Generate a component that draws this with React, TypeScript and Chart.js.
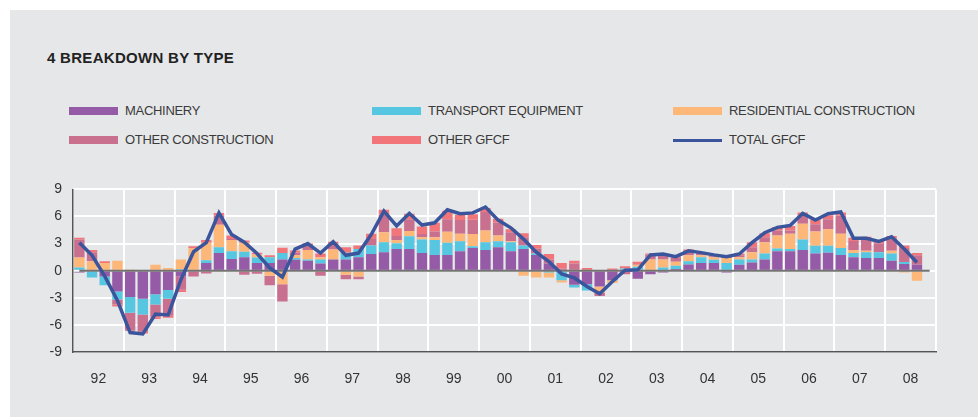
import React, { useEffect, useRef } from 'react';
import { Chart, registerables } from 'chart.js';

Chart.register(...registerables);

const years = ['92', '93', '94', '95', '96', '97', '98', '99', '00', '01', '02', '03', '04', '05', '06', '07', '08'];
const quarterNames = ['Q1', 'Q2', 'Q3', 'Q4'];
const quarters = years.flatMap((y) => quarterNames.map((q) => `${q} ${y}`));

const machinery = [
  -0.2, 0, -0.65, -2.3,
  -2.9, -3.1, -2.6, -2.15,
  -0.65, 0, 0.85, 1.95,
  1.3, 1.5, 0.85, 0.85,
  1.25, 1.2, 1.1, 0.8,
  1.25, 1.25, 1.5, 1.85,
  2.05, 2.4, 2.4, 1.95,
  1.75, 1.75, 2.15, 2.5,
  2.3, 2.6, 2.15, 2.4,
  1.75, 0.8, 0, -1.55,
  -1.5, -1.75, -1.05, 0,
  -0.9, -0.4, -0.2, 0.2,
  0.7, 0.85, 0.85, -0.2,
  0.65, 0.9, 1.25, 2.15,
  2.15, 2.3, 1.9, 2.0,
  1.75, 1.5, 1.4, 1.4,
  1.1, 0.75, 0.65,
];

const transport = [
  0.35, -0.75, -0.95, -0.9,
  -1.75, -1.75, -1.15, -0.95,
  0.15, 0.1, 0.3, 0.65,
  0.85, 0.6, 0.6, 0.65,
  0.7, 0.2, 0.15, 0.45,
  0, 0.75, 0.9, 0.95,
  1.1, 0.65, 1.4, 1.5,
  1.65, 1.35, 1.1, 0.2,
  0.85, 0.65, 1.0, 0.4,
  0.15, -0.2, -1.05, -0.3,
  -0.7, 0, 0, 0.25,
  0.45, 0.1, 0.35, 0.35,
  0.35, 0.65, 0.35, 0.85,
  0.6, 0.35, 0.65, 0.3,
  0.25, 1.15, 0.85, 0.75,
  0.75, 0.45, 0.65, 0.65,
  0.8, 0.2, 0,
];

const residential = [
  1.1, 1.05, 0.85, 1.1,
  0.05, 0.1, 0.65, 0.3,
  1.1, 2.4, 1.95, 2.5,
  1.25, 1.0, 0.35, -0.55,
  -1.5, 0.3, 1.05, 0.25,
  1.1, -0.45, -0.65, 0,
  1.1, 0.35, 0.6, 0.25,
  0.3, 1.2, 0.85, 1.35,
  1.3, 0.65, 0.1, -0.55,
  -0.75, -0.55, -0.25, 0.1,
  0, -0.7, -0.3, 0,
  0.2, 1.15, 0.9, 0.45,
  0.65, 0.2, 0.3, 0.55,
  0.25, 0.8, 1.25, 1.45,
  1.7, 1.75, 1.6, 1.85,
  1.6, 0.35, 0.15, 0,
  0.3, -0.2, -1.1,
];

const otherConstruction = [
  2.0, 1.0, 0, -0.55,
  -2.0, -1.9, -1.4, -1.9,
  -1.45, -0.65, -0.3, 1.0,
  0.1, -0.45, -0.35, -1.05,
  -1.9, 0.3, 0.45, -0.55,
  0.65, -0.5, -0.3, 0.7,
  1.95, 0.45, 1.3, 0.35,
  0.65, 1.4, 1.5, 1.6,
  2.05, 1.4, 1.0, 0.9,
  0.55, 0.45, 0.25, 0.7,
  0, -0.35, 0.1, -0.4,
  0.1, 0.55, 0.55, 0.5,
  0.45, 0.2, 0.1, 0.3,
  0.2, 0.55, 0.55, 0.55,
  0.35, 0.9, 0.8, 1.1,
  2.0, 1.0, 1.2, 1.0,
  1.35, 1.55, 1.05,
];

const otherGfcf = [
  0.2, 0.25, 0.2, -0.2,
  0, -0.2, -0.2, -0.2,
  -0.25, 0.2, 0.3, 0.3,
  0.4, 0.25, 0.2, 0.2,
  0.6, 0.25, 0.25, 0.4,
  0.2, 0.6, 0.4, 0.6,
  0.55, 0.85, 0.6, 0.85,
  0.95, 0.95, 0.6, 0.6,
  0.45, 0.45, 0.35, 0.45,
  0.4, 0.6, 0.6, 0.3,
  0.3, 0.1, 0.15, 0.25,
  0.25, 0.1, 0.1, 0.1,
  0.2, 0.1, 0.1, 0,
  0.2, 0.55, 0.45, 0.4,
  0.5, 0.35, 0.55, 0.45,
  0.35, 0.35, 0.35, 0.3,
  0.3, 0.3, 0.25,
];

const totalGfcf = [
  3.1, 1.7, -0.6, -3.3,
  -6.85, -7.0, -4.8, -4.9,
  -1.0, 2.1, 3.1, 6.4,
  4.0, 3.15, 1.9, 0.3,
  -0.7, 2.4, 3.0, 1.95,
  3.2, 1.7, 1.95, 4.0,
  6.6, 4.95, 6.35, 5.05,
  5.3, 6.75, 6.3, 6.4,
  7.05, 5.6, 4.75, 3.5,
  2.05, 1.0, -0.35, -0.8,
  -1.75, -2.55, -1.2, 0.05,
  0.1, 1.75, 1.85, 1.55,
  2.2, 2.0, 1.75, 1.55,
  1.85, 3.1, 4.2, 4.8,
  5.0, 6.35, 5.6, 6.3,
  6.5, 3.6, 3.6, 3.25,
  3.75, 2.4, 0.9,
];

const yTicks = [-9, -6, -3, 0, 3, 6, 9];

const COLORS = {
  machinery: '#955ba6',
  transport: '#57c6e0',
  residential: '#fcb779',
  otherConstruction: '#c9708f',
  otherGfcf: '#f27679',
  total: '#3b559c',
};

const FONT = '"Liberation Sans", Arial, Helvetica, sans-serif';

const legendItems = [
  { label: 'MACHINERY', color: COLORS.machinery, line: false },
  { label: 'TRANSPORT EQUIPMENT', color: COLORS.transport, line: false },
  { label: 'RESIDENTIAL CONSTRUCTION', color: COLORS.residential, line: false },
  { label: 'OTHER CONSTRUCTION', color: COLORS.otherConstruction, line: false },
  { label: 'OTHER GFCF', color: COLORS.otherGfcf, line: false },
  { label: 'TOTAL GFCF', color: COLORS.total, line: true },
];

const colX = [69, 372, 673];
const rowY = [111, 140];

function ChartCanvas() {
  const ref = useRef<HTMLCanvasElement | null>(null);
  useEffect(() => {
    if (!ref.current) return;
    const bar = (label: string, data: number[], color: string) => ({
      type: 'bar' as const,
      label,
      data,
      backgroundColor: color,
      borderWidth: 0,
      stack: 'gfcf',
      order: 2,
      xAxisID: 'x',
      yAxisID: 'y',
      barPercentage: 0.82,
      categoryPercentage: 1,
    });
    const chart = new Chart(ref.current, {
      data: {
        labels: quarters,
        datasets: [
          bar('MACHINERY', machinery, COLORS.machinery),
          bar('TRANSPORT EQUIPMENT', transport, COLORS.transport),
          bar('RESIDENTIAL CONSTRUCTION', residential, COLORS.residential),
          bar('OTHER CONSTRUCTION', otherConstruction, COLORS.otherConstruction),
          bar('OTHER GFCF', otherGfcf, COLORS.otherGfcf),
          {
            type: 'line' as const,
            label: 'zero',
            data: quarters.map(() => 0),
            borderColor: 'rgba(60,60,60,0.72)',
            borderWidth: 2,
            pointRadius: 0,
            tension: 0,
            fill: false,
            stack: 'zeroLine',
            order: 1,
            xAxisID: 'x',
            yAxisID: 'y',
          },
          {
            type: 'line' as const,
            label: 'TOTAL GFCF',
            data: totalGfcf,
            borderColor: COLORS.total,
            borderWidth: 3.5,
            pointRadius: 0,
            tension: 0,
            fill: false,
            stack: 'totalLine',
            order: 0,
            xAxisID: 'x',
            yAxisID: 'y',
          },
        ],
      } as any,
      options: {
        animation: false,
        responsive: true,
        maintainAspectRatio: false,
        layout: { padding: { top: 16, right: 42, left: 0, bottom: 0 } },
        plugins: { legend: { display: false }, tooltip: { enabled: false } },
        scales: {
          x: {
            type: 'category',
            display: false,
            offset: true,
            stacked: true,
          },
          xYear: {
            type: 'category',
            labels: years,
            position: 'bottom',
            offset: true,
            grid: { offset: true, color: '#ffffff', lineWidth: 2, drawTicks: false },
            border: { color: '#555555', width: 1.5 },
            ticks: { color: '#333333', font: { family: FONT, size: 14 }, padding: 19, maxRotation: 0, autoSkip: false },
            afterFit: (s: any) => { s.height = 65; },
          },
          y: {
            type: 'linear',
            min: -9,
            max: 9,
            stacked: true,
            afterBuildTicks: (s: any) => { s.ticks = yTicks.map((v) => ({ value: v })); },
            grid: { color: '#ffffff', lineWidth: 2, drawTicks: false },
            border: { color: '#555555', width: 1.5 },
            ticks: { color: '#333333', font: { family: FONT, size: 14 }, padding: 11 },
            afterFit: (s: any) => { s.width = 73; },
          },
        },
      } as any,
    });
    return () => chart.destroy();
  }, []);
  return (
    <div style={{ position: 'absolute', left: 0, top: 170, width: 978, height: 247 }}>
      <canvas ref={ref} />
    </div>
  );
}

export default function App() {
  return (
    <div style={{ position: 'fixed', left: 0, top: 0, width: 978, height: 417, background: '#ffffff', overflow: 'hidden', fontFamily: FONT }}>
      <div style={{ position: 'absolute', left: 10, top: 10, right: 0, bottom: 0, background: '#e6e7e9' }} />
      <div style={{ position: 'absolute', left: 47, top: 48, fontSize: 15, fontWeight: 700, color: '#222', letterSpacing: 0.3, lineHeight: '20px', whiteSpace: 'nowrap' }}>
        4 BREAKDOWN BY TYPE
      </div>
      {legendItems.map((it, i) => {
        const x = colX[i % 3];
        const y = rowY[Math.floor(i / 3)];
        return (
          <div key={it.label}>
            <div
              style={{
                position: 'absolute',
                left: x,
                top: it.line ? y - 1.5 : y - 4,
                width: 49,
                height: it.line ? 3 : 8,
                background: it.color,
              }}
            />
            <div
              style={{
                position: 'absolute',
                left: x + 56,
                top: y - 9,
                fontSize: 13,
                lineHeight: '18px',
                color: '#3a3a3a',
                letterSpacing: -0.3,
                whiteSpace: 'nowrap',
              }}
            >
              {it.label}
            </div>
          </div>
        );
      })}
      <ChartCanvas />
    </div>
  );
}
